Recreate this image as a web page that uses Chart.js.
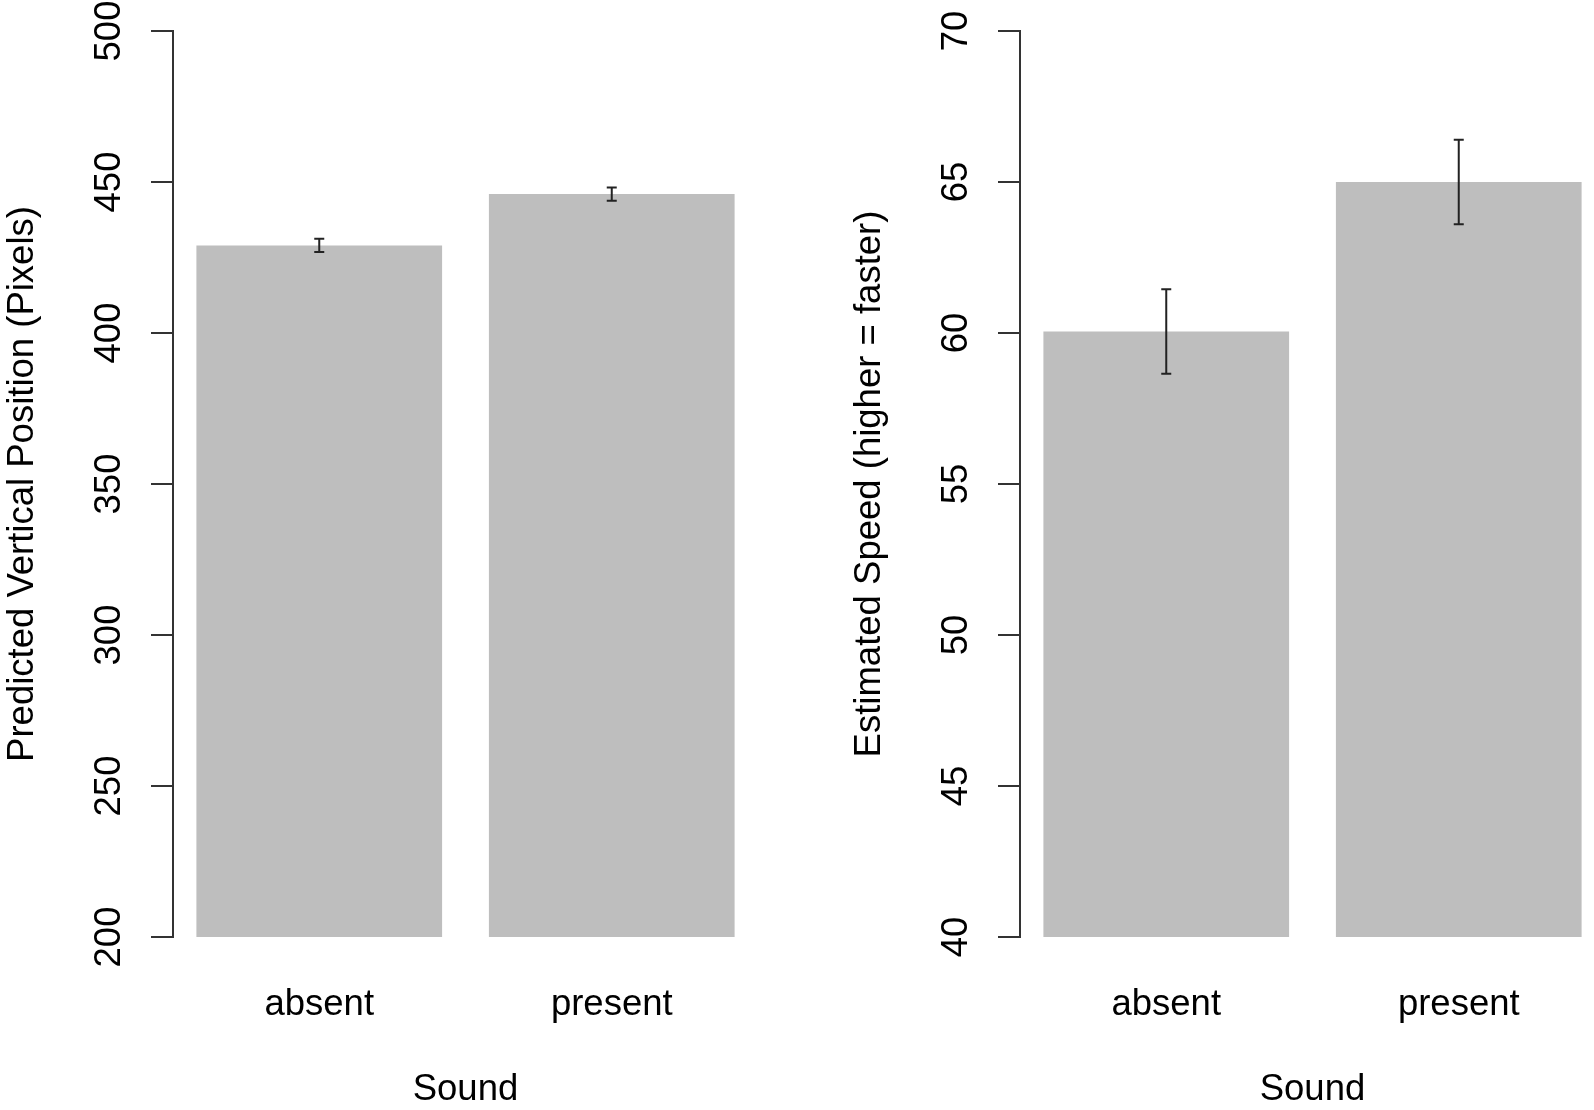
<!DOCTYPE html>
<html>
<head>
<meta charset="utf-8">
<script src="https://cdn.jsdelivr.net/npm/chart.js@4.4.1/dist/chart.umd.min.js"></script>
<style>
  html, body { margin: 0; padding: 0; background: #fff; overflow: hidden; width: 1594px; height: 1110px; }
  .panel { position: absolute; top: 0; width: 847px; height: 1110px; }
  #left { left: 0; }
  #right { left: 847px; }
</style>
</head>
<body>
<div class="panel" id="left"><canvas id="grafico_posicao"></canvas></div>
<div class="panel" id="right"><canvas id="grafico_velocidade"></canvas></div>
<script>
// --- Dados ---
const categorias = ['absent', 'present'];
const posicaoMedia = [429, 446];
const posicaoErro = [2.2, 2.2];
const posicaoTicks = [200, 250, 300, 350, 400, 450, 500];
const velocidadeMedia = [60.05, 65.0];
const velocidadeErro = [1.4, 1.4];
const velocidadeTicks = [40, 45, 50, 55, 60, 65, 70];

const FONTE = 'Liberation Sans, Arial, Helvetica, sans-serif';
const TAM_FONTE = 36.5;
const COR_EIXO = '#333333';

// Desenha as barras de erro sobre cada barra
const barrasErro = {
  id: 'barrasErro',
  afterDatasetsDraw(chart, args, opts) {
    const { ctx } = chart;
    const meta = chart.getDatasetMeta(0);
    const y = chart.scales.y;
    ctx.save();
    ctx.strokeStyle = '#222';
    ctx.lineWidth = 2;
    meta.data.forEach((bar, i) => {
      const v = chart.data.datasets[0].data[i];
      const e = opts.erros[i];
      const yAlto = y.getPixelForValue(v + e);
      const yBaixo = y.getPixelForValue(v - e);
      ctx.beginPath();
      ctx.moveTo(bar.x, yAlto); ctx.lineTo(bar.x, yBaixo);
      ctx.moveTo(bar.x - 5, yAlto); ctx.lineTo(bar.x + 5, yAlto);
      ctx.moveTo(bar.x - 5, yBaixo); ctx.lineTo(bar.x + 5, yBaixo);
      ctx.stroke();
    });
    ctx.restore();
  }
};

function larguraTexto(txt) {
  const c = document.createElement('canvas').getContext('2d');
  c.font = TAM_FONTE + 'px ' + FONTE;
  return c.measureText(txt).width;
}

function criarGrafico(id, medias, erros, ticks, tituloY) {
  const maisLargo = Math.max(...ticks.map(t => larguraTexto(String(t))));
  return new Chart(document.getElementById(id), {
    type: 'bar',
    data: {
      labels: categorias,
      datasets: [{ data: medias, backgroundColor: '#bebebe', borderWidth: 0,
                   categoryPercentage: 1, barPercentage: 0.84 }]
    },
    options: {
      responsive: true,
      maintainAspectRatio: false,
      animation: false,
      layout: { padding: { top: 31, right: 89, left: 0, bottom: 0 } },
      plugins: {
        legend: { display: false },
        tooltip: { enabled: false },
        barrasErro: { erros: erros }
      },
      scales: {
        x: {
          grid: { display: false, drawTicks: false },
          border: { display: false },
          ticks: { color: '#000', font: { family: FONTE, size: TAM_FONTE }, padding: 46 },
          title: { display: true, text: 'Sound', color: '#000', padding: 0,
                   font: { family: FONTE, size: TAM_FONTE, lineHeight: 1.1 } },
          afterFit(s) { s.height = 173; }
        },
        y: {
          min: ticks[0],
          max: ticks[ticks.length - 1],
          afterBuildTicks(s) { s.ticks = ticks.map(v => ({ value: v })); },
          grid: { drawOnChartArea: false, drawTicks: true, tickLength: 22, color: COR_EIXO, lineWidth: 2 },
          border: { display: true, color: COR_EIXO, width: 2 },
          ticks: {
            color: '#000', font: { family: FONTE, size: TAM_FONTE },
            minRotation: 90, maxRotation: 90, crossAlign: 'center',
            padding: 41 - maisLargo / 2
          },
          title: { display: true, text: tituloY, color: '#000', padding: { top: 1, bottom: 0 },
                   font: { family: FONTE, size: TAM_FONTE, lineHeight: 1.2 } },
          afterFit(s) { s.width = 173; s.paddingTop = 0; s.paddingBottom = 0; }
        }
      }
    },
    plugins: [barrasErro]
  });
}

criarGrafico('grafico_posicao', posicaoMedia, posicaoErro, posicaoTicks, 'Predicted Vertical Position (Pixels)');
criarGrafico('grafico_velocidade', velocidadeMedia, velocidadeErro, velocidadeTicks, 'Estimated Speed (higher = faster)');
</script>
</body>
</html>
